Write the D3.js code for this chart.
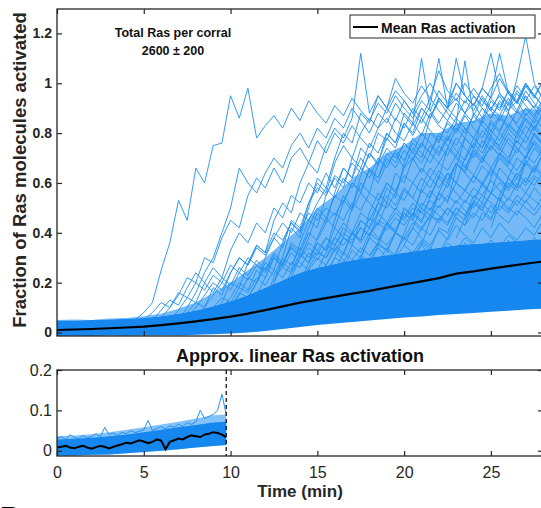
<!DOCTYPE html>
<html>
<head>
<meta charset="utf-8">
<script src="https://cdnjs.cloudflare.com/ajax/libs/d3/7.8.5/d3.min.js"></script>
<style>
  body { margin: 0; background: #fff; }
  svg { display: block; font-family: "Liberation Sans", Arial, sans-serif; }
  .tick text { fill: #262626; }
  .tick line { stroke: #262626; stroke-width: 1.2; }
</style>
</head>
<body>
<svg width="541" height="508"></svg>
<script>
// ---- data ----
var meanTimes = d3.range(0, 31, 1);
var meanTop = [0.01,0.012,0.014,0.017,0.02,0.024,0.03,0.037,0.045,0.054,0.064,0.076,0.09,0.105,0.12,0.132,0.144,0.156,0.167,0.18,0.193,0.205,0.218,0.236,0.245,0.256,0.266,0.276,0.285,0.29,0.3];

// envelopes of the dense part of the simulation cloud
var bandTimes = d3.range(0, 29, 1);
var coreLo = [-0.014,-0.013,-0.014,-0.012,-0.013,-0.012,-0.011,-0.012,-0.009,-0.007,-0.004,0.0,0.006,0.014,0.022,0.03,0.036,0.042,0.048,0.054,0.06,0.064,0.07,0.074,0.078,0.083,0.087,0.092,0.096];
var coreHi = [0.048,0.048,0.05,0.052,0.055,0.058,0.065,0.075,0.088,0.105,0.125,0.15,0.18,0.21,0.24,0.26,0.275,0.29,0.3,0.31,0.32,0.33,0.34,0.35,0.355,0.36,0.365,0.37,0.375];
var midHi = [0.05,0.052,0.05,0.056,0.058,0.065,0.075,0.095,0.12,0.16,0.2,0.25,0.3,0.36,0.42,0.5,0.55,0.62,0.66,0.72,0.75,0.8,0.8,0.84,0.85,0.88,0.87,0.9,0.89];

// single trajectories, sampled every 0.5 min from their start time
var trajStep = 0.5;
var trajStart = [4.5, 6, 6.5, 7, 8, 9, 10, 10.5, 11, 12, 13, 14, 15, 16, 17, 18, 19, 20, 5.5, 5, 20.5, 22, 8.5, 15.5, 24,
                 12.5, 13.5, 11.5, 17.5, 21, 15, 16.5, 19.5, 9.5, 7.5, 23, 18.5, 14.5, 10, 7, 25, 13];
var trajValues = [
  [0.05,0.08,0.12,0.25,0.36,0.53,0.45,0.66,0.6,0.75,0.76,0.95,0.86,0.98,0.78,0.83,0.87,0.82,0.9,0.85,0.93,0.88,0.84,0.91,0.87,0.94,0.89,0.85,0.92,0.88,0.95,0.9,0.86,0.93,0.89,0.84,0.9,0.94,0.88,0.92,0.86,0.9,0.95,0.89,0.93,0.87,0.91,0.88,0.92],
  [0.06,0.1,0.15,0.22,0.2,0.3,0.28,0.38,0.45,0.42,0.55,0.62,0.58,0.66,0.6,0.7,0.74,0.68,0.77,0.72,0.8,0.76,0.83,0.78,0.74,0.82,0.86,0.8,0.77,0.84,0.79,0.88,0.83,0.8,0.86,0.82,0.78,0.85,0.81,0.87,0.83,0.8,0.86,0.82,0.88],
  [0.05,0.09,0.14,0.12,0.2,0.26,0.22,0.33,0.4,0.36,0.44,0.4,0.5,0.46,0.55,0.52,0.6,0.56,0.64,0.58,0.66,0.62,0.7,0.65,0.6,0.68,0.72,0.66,0.7,0.64,0.72,0.68,0.74,0.7,0.66,0.73,0.69,0.75,0.71,0.67,0.74,0.7,0.76,0.72],
  [0.05,0.1,0.16,0.24,0.3,0.4,0.5,0.66,0.6,0.56,0.64,0.7,0.66,0.75,0.8,0.74,0.82,0.78,0.86,0.82,0.9,0.85,0.8,0.88,0.84,0.92,0.87,0.83,0.9,0.86,0.93,0.88,0.84,1.09,0.87,0.94,0.89,0.85,0.92,0.88,0.95,0.9,0.86],
  [0.06,0.1,0.18,0.15,0.24,0.3,0.27,0.35,0.32,0.4,0.37,0.44,0.41,0.48,0.45,0.5,0.47,0.53,0.49,0.56,0.52,0.48,0.55,0.51,0.58,0.54,0.5,0.57,0.53,0.6,0.56,0.52,0.58,0.55,0.61,0.57,0.53,0.6,0.56,0.62,0.58],
  [0.08,0.12,0.2,0.18,0.28,0.35,0.32,0.45,0.52,0.48,0.6,0.68,0.64,0.75,0.82,0.78,0.86,1.12,0.88,0.95,0.9,0.97,0.93,0.88,0.95,1.0,0.94,0.9,0.96,0.92,0.98,0.93,0.89,0.96,0.91,0.97,0.93,0.99,0.94,0.9],
  [0.1,0.15,0.22,0.2,0.3,0.38,0.34,0.45,0.42,0.52,0.58,0.55,0.63,0.6,0.68,0.64,0.72,0.67,0.74,0.7,0.76,0.72,0.68,0.75,0.71,0.78,0.73,0.69,0.76,0.72,0.79,0.74,0.7,0.77,0.73,0.8,0.75],
  [0.1,0.14,0.2,0.28,0.25,0.36,0.44,0.4,0.52,0.6,0.56,0.68,0.75,0.7,0.8,0.86,0.82,0.9,0.85,0.93,0.88,0.84,0.91,1.1,0.9,0.86,0.93,0.89,0.95,0.9,0.87,0.94,0.89,0.97,0.92,0.88],
  [0.12,0.16,0.14,0.22,0.26,0.24,0.3,0.34,0.31,0.38,0.35,0.42,0.39,0.45,0.42,0.48,0.44,0.5,0.46,0.52,0.48,0.45,0.51,0.47,0.53,0.49,0.46,0.52,0.48,0.54,0.5,0.47,0.53,0.49,0.55],
  [0.14,0.2,0.28,0.25,0.36,0.45,0.42,0.55,0.62,0.58,0.7,0.66,0.76,0.72,0.8,0.76,0.84,0.79,0.86,0.81,0.77,0.84,0.8,0.87,0.82,0.78,0.85,0.81,0.88,0.83,0.79,0.86,0.82,0.89],
  [0.15,0.2,0.18,0.26,0.32,0.3,0.38,0.44,0.4,0.48,0.45,0.52,0.5,0.56,0.53,0.6,0.56,0.62,0.58,0.64,0.6,0.57,0.63,0.59,0.65,0.61,0.58,0.64,0.6,0.66,0.62,0.59],
  [0.2,0.28,0.36,0.33,0.45,0.55,0.5,0.63,0.72,0.68,0.8,0.76,0.88,0.84,1.1,0.89,0.97,0.92,1.0,0.95,0.91,0.98,1.12,0.96,0.92,0.99,0.94,0.9,0.97,0.93],
  [0.22,0.27,0.34,0.31,0.4,0.37,0.46,0.43,0.52,0.49,0.57,0.54,0.62,0.58,0.65,0.61,0.68,0.64,0.6,0.67,0.63,0.7,0.66,0.62,0.69,0.65,0.72,0.68],
  [0.25,0.32,0.4,0.37,0.48,0.56,0.52,0.64,0.6,0.7,0.76,0.72,0.8,0.77,0.84,0.8,0.87,0.83,0.79,0.86,0.82,0.89,0.85,0.81,0.88,0.84],
  [0.25,0.3,0.28,0.35,0.33,0.4,0.38,0.44,0.41,0.47,0.45,0.5,0.47,0.53,0.5,0.55,0.52,0.49,0.54,0.51,0.56,0.53,0.5,0.55],
  [0.3,0.36,0.44,0.4,0.5,0.47,0.57,0.54,0.63,0.6,0.68,0.64,0.72,0.68,0.75,0.71,0.78,0.74,0.7,0.77,0.73,0.8],
  [0.32,0.4,0.5,0.46,0.58,0.66,0.62,0.74,0.82,0.78,0.88,0.84,0.93,0.89,0.97,0.92,1.0,0.95,0.91,0.98],
  [0.35,0.42,0.5,0.47,0.56,0.64,0.6,0.7,0.78,0.74,0.84,0.8,0.88,1.02,1.19,1.0,0.94,0.98],
  [0.05,0.09,0.13,0.11,0.18,0.24,0.2,0.16,0.22,0.19,0.26,0.23,0.29,0.25,0.32,0.28,0.34,0.3,0.36,0.33,0.38,0.35,0.4,0.37,0.42,0.39,0.44,0.41,0.46,0.43,0.48,0.45,0.5,0.47,0.44,0.5,0.47,0.52,0.49,0.46,0.51,0.48,0.53,0.5,0.47,0.52,0.49,0.54],
  [0.05,0.08,0.12,0.1,0.16,0.14,0.2,0.17,0.23,0.2,0.27,0.24,0.3,0.27,0.25,0.31,0.28,0.34,0.31,0.28,0.33,0.3,0.35,0.32,0.29,0.34,0.31,0.36,0.33,0.3,0.35,0.32,0.37,0.34,0.31,0.36,0.33,0.38,0.35,0.32,0.37,0.34,0.39,0.36,0.33,0.38,0.35,0.4],
  [0.3,0.36,0.33,0.42,0.4,0.48,0.45,0.52,0.49,0.56,0.53,0.6,0.57,0.62,0.59,0.64,0.61],
  [0.32,0.38,0.46,0.43,0.52,0.6,0.56,0.66,0.62,0.7,0.67,0.74,0.7,0.76],
  [0.06,0.1,0.14,0.12,0.18,0.16,0.22,0.19,0.25,0.22,0.28,0.26,0.32,0.29,0.35,0.33,0.38,0.36,0.42,0.39,0.45,0.43,0.48,0.45,0.5,0.48,0.53,0.5,0.55,0.52,0.57,0.54,0.59,0.56,0.6,0.57,0.62,0.59,0.63,0.6,0.64],
  [0.24,0.3,0.38,0.35,0.45,0.42,0.52,0.6,0.56,0.66,0.74,0.7,0.8,0.76,0.85,0.81,0.88,0.84,0.9,0.86,0.92,0.88,0.84,0.9,0.86,0.93,0.89],
  [0.4,0.48,0.45,0.55,0.62,0.58,0.68,0.64,0.72,0.69],
  [0.2,0.3,0.42,0.38,0.5,0.62,0.58,0.7,0.8,0.76,0.88,0.84,0.95,0.9,1.02,0.96,0.92,0.99,0.94,1.05,0.97,0.93,1.0,0.95,0.91,0.98,1.04,0.96,0.92,1.0,0.95,0.91],
  [0.22,0.3,0.38,0.48,0.44,0.56,0.66,0.62,0.74,0.7,0.8,0.77,0.86,0.82,0.9,0.86,0.94,0.89,0.85,0.92,0.88,0.95,0.9,0.86,0.93,0.89,0.96,0.91,0.87,0.94],
  [0.15,0.22,0.3,0.27,0.36,0.33,0.42,0.5,0.46,0.55,0.52,0.6,0.57,0.65,0.62,0.7,0.66,0.73,0.69,0.76,0.72,0.79,0.75,0.71,0.78,0.74,0.81,0.77,0.73,0.8,0.76,0.83,0.79,0.75],
  [0.3,0.38,0.48,0.58,0.54,0.68,0.78,0.74,0.86,0.94,0.9,1.1,0.95,0.91,0.98,0.94,1.02,0.96,0.92,0.99,0.95,1.01,0.97],
  [0.35,0.45,0.56,0.52,0.66,0.78,0.74,0.86,0.95,1.12,0.96,0.92,0.99,0.94,1.01,0.96],
  [0.25,0.32,0.42,0.38,0.5,0.6,0.56,0.68,0.78,0.74,0.84,0.8,0.9,0.86,0.94,0.9,1.0,0.95,0.91,0.98,0.94,0.9,0.97,0.93,1.0,0.95,0.91],
  [0.26,0.33,0.3,0.38,0.35,0.43,0.4,0.48,0.45,0.52,0.49,0.56,0.53,0.6,0.57,0.63,0.6,0.66,0.62,0.58,0.64,0.6,0.67,0.63,0.59],
  [0.32,0.38,0.35,0.42,0.39,0.46,0.43,0.5,0.47,0.53,0.5,0.56,0.53,0.49,0.55,0.52,0.58,0.54],
  [0.1,0.14,0.2,0.17,0.25,0.22,0.3,0.27,0.35,0.32,0.4,0.37,0.44,0.48,0.45,0.52,0.49,0.56,0.53,0.6,0.57,0.63,0.6,0.66,0.62,0.68,0.65,0.71,0.67,0.63,0.7,0.66,0.72,0.69,0.65,0.71,0.68,0.74],
  [0.06,0.1,0.15,0.2,0.17,0.24,0.3,0.27,0.34,0.31,0.38,0.44,0.4,0.48,0.45,0.52,0.58,0.54,0.62,0.58,0.66,0.62,0.7,0.66,0.73,0.69,0.76,0.72,0.68,0.75,0.71,0.78,0.74,0.7,0.77,0.73,0.8,0.76,0.72,0.79,0.75,0.71],
  [0.38,0.46,0.55,0.52,0.62,0.72,0.68,0.8,0.88,0.84,0.92],
  [0.28,0.34,0.31,0.4,0.48,0.44,0.55,0.62,0.58,0.68,0.65,0.74,0.7,0.78,0.75,0.82,0.78,0.86,0.82,0.78,0.85],
  [0.2,0.25,0.23,0.3,0.28,0.35,0.32,0.4,0.37,0.44,0.41,0.48,0.45,0.42,0.47,0.44,0.5,0.46,0.43,0.48,0.45,0.51,0.47,0.44,0.49,0.46,0.42,0.48],
  [0.1,0.16,0.14,0.2,0.26,0.23,0.3,0.27,0.34,0.3,0.36,0.33,0.38,0.35,0.4,0.36,0.42,0.38,0.35,0.4,0.37,0.42,0.38,0.35,0.41,0.37,0.43,0.39,0.36,0.42,0.38,0.44,0.4,0.37,0.42,0.39,0.45],
  [0.05,0.08,0.12,0.1,0.15,0.2,0.17,0.24,0.21,0.27,0.24,0.3,0.26,0.32,0.28,0.25,0.3,0.27,0.33,0.29,0.26,0.31,0.28,0.34,0.3,0.27,0.32,0.29,0.35,0.31,0.28,0.33,0.3,0.36,0.32,0.29,0.34,0.31,0.37,0.33,0.3,0.35,0.32],
  [0.42,0.52,0.62,0.58,0.7,0.8,0.76,0.85],
  [0.18,0.24,0.32,0.28,0.38,0.46,0.42,0.52,0.6,0.56,0.66,0.62,0.72,0.68,0.76,0.72,0.8,0.76,0.72,0.79,0.75,0.82,0.78,0.74,0.81,0.77,0.84,0.8,0.76,0.83,0.79,0.75,0.82]
];

// bottom panel: approx. linear phase
var linEnd = 9.75;
var botTimes = d3.range(0, 10, 0.25);
var botMean = [0.008,0.01,0.012,0.008,0.006,0.01,0.012,0.008,0.005,0.009,0.012,0.01,0.006,0.01,0.013,0.016,0.02,0.018,0.022,0.026,0.023,0.019,0.022,0.028,0.025,0.004,0.022,0.026,0.03,0.028,0.034,0.038,0.036,0.034,0.04,0.042,0.046,0.044,0.04,0.034];
var botLines = [
  [0.03,0.035,0.028,0.04,0.033,0.03,0.038,0.032,0.036,0.042,0.035,0.058,0.04,0.044,0.038,0.046,0.042,0.05,0.045,0.048,0.052,0.075,0.05,0.055,0.06,0.054,0.062,0.058,0.066,0.06,0.07,0.065,0.072,0.1,0.08,0.085,0.09,0.1,0.14,0.09],
  [-0.01,-0.005,-0.012,-0.006,-0.01,-0.004,-0.008,-0.002,-0.006,0.0,-0.004,0.002,-0.003,0.004,0.0,0.006,0.002,0.008,0.004,0.01,0.006,0.012,0.008,0.014,0.01,0.016,0.012,0.018,0.014,0.02,0.016,0.022,0.018,0.024,0.02,0.026,0.022,0.028,0.024,0.03]
];
var botBandTimes = [0,1,2,3,4,5,6,7,8,9,9.75];
var botLo = [-0.012,-0.012,-0.01,-0.009,-0.006,-0.003,0.0,0.004,0.008,0.012,0.014];
var botHi = [0.028,0.03,0.032,0.036,0.04,0.046,0.052,0.058,0.064,0.07,0.072];
var botMidHi = [0.036,0.038,0.041,0.046,0.052,0.058,0.065,0.072,0.08,0.088,0.09];

var xTicks = [0,5,10,15,20,25];
var yTicksTop = [0,0.2,0.4,0.6,0.8,1,1.2];
var yTicksBot = [0,0.1,0.2];

// ---- drawing ----
var svg = d3.select("svg"),
    blue = "#2090f2",
    core = "#1687ee",
    ink = "#262626";

var x = d3.scaleLinear().domain([0, 28]).range([57, 543]);
var yT = d3.scaleLinear().domain([-0.014, 1.298]).range([336, 9]);
var yB = d3.scaleLinear().domain([-0.013, 0.2]).range([456, 370]);

var defs = svg.append("defs");
defs.append("clipPath").attr("id", "clipT").append("rect")
    .attr("x", x(0)).attr("y", yT(1.298)).attr("width", x(28) - x(0)).attr("height", yT(-0.014) - yT(1.298));
defs.append("clipPath").attr("id", "clipB").append("rect")
    .attr("x", x(0)).attr("y", yB(0.2)).attr("width", x(28) - x(0)).attr("height", yB(-0.013) - yB(0.2));

function band(xs, lo, hi, y) {
  return d3.area()
    .x(function(d, i) { return x(xs[i]); })
    .y0(function(d, i) { return y(lo[i]); })
    .y1(function(d, i) { return y(hi[i]); })(xs);
}

// top panel
var gT = svg.append("g").attr("clip-path", "url(#clipT)");
gT.append("path").attr("d", band(bandTimes, coreHi, midHi, yT)).attr("fill", blue).attr("opacity", 0.62);

var trajLine = d3.line()
    .x(function(d) { return x(d[0]); })
    .y(function(d) { return yT(d[1]); });

gT.selectAll(".traj")
  .data(trajValues)
  .enter().append("path")
    .attr("class", "traj")
    .attr("d", function(vals, k) {
      return trajLine(vals.map(function(v, i) { return [trajStart[k] + i * trajStep, v]; }));
    })
    .attr("fill", "none")
    .attr("stroke", blue)
    .attr("stroke-width", 1)
    .attr("opacity", 0.9);

gT.append("path").attr("d", band(bandTimes, coreLo, coreHi, yT)).attr("fill", core);

gT.append("path")
  .datum(meanTop)
  .attr("d", d3.line().x(function(d, i) { return x(meanTimes[i]); }).y(function(d) { return yT(d); }))
  .attr("fill", "none").attr("stroke", "#000").attr("stroke-width", 2.2);

// bottom panel
var gB = svg.append("g").attr("clip-path", "url(#clipB)");
gB.append("path").attr("d", band(botBandTimes, botLo, botMidHi, yB)).attr("fill", blue).attr("opacity", 0.55);
gB.selectAll(".bl")
  .data(botLines)
  .enter().append("path")
    .attr("d", d3.line().x(function(d, i) { return x(botTimes[i]); }).y(function(d) { return yB(d); }))
    .attr("fill", "none").attr("stroke", blue).attr("stroke-width", 1);
gB.append("path").attr("d", band(botBandTimes, botLo, botHi, yB)).attr("fill", core);
gB.append("path")
  .datum(botMean)
  .attr("d", d3.line().x(function(d, i) { return x(botTimes[i]); }).y(function(d) { return yB(d); }))
  .attr("fill", "none").attr("stroke", "#000").attr("stroke-width", 2);

svg.append("line")
  .attr("x1", x(linEnd)).attr("x2", x(linEnd))
  .attr("y1", yB(0.2)).attr("y2", yB(-0.013))
  .attr("stroke", "#111").attr("stroke-width", 1.3).attr("stroke-dasharray", "4,3");

// axes & frames
function frame(y, top, bottom) {
  svg.append("rect")
    .attr("x", x(0)).attr("y", y(top))
    .attr("width", x(28) - x(0)).attr("height", y(bottom) - y(top))
    .attr("fill", "none").attr("stroke", ink).attr("stroke-width", 1.3);
}
function axes(y, top, bottom, yTicks, bold, fs, showX) {
  var fmt = d3.format("~g");
  svg.append("g").attr("transform", "translate(" + x(0) + ",0)")
    .call(d3.axisLeft(y).tickValues(yTicks).tickSizeInner(-5).tickSizeOuter(0).tickPadding(5).tickFormat(fmt))
    .call(function(g) { g.select(".domain").remove(); })
    .selectAll("text").attr("font-size", fs).attr("font-weight", bold ? "bold" : "normal")
    .attr("font-family", "Liberation Sans, Arial, sans-serif");
  svg.append("g").attr("transform", "translate(" + x(28) + ",0)")
    .call(d3.axisRight(y).tickValues(yTicks).tickSizeInner(-5).tickSizeOuter(0).tickFormat(""))
    .call(function(g) { g.select(".domain").remove(); });
  svg.append("g").attr("transform", "translate(0," + y(top) + ")")
    .call(d3.axisTop(x).tickValues(xTicks).tickSizeInner(-5).tickSizeOuter(0).tickFormat(""))
    .call(function(g) { g.select(".domain").remove(); });
  var xb = svg.append("g").attr("transform", "translate(0," + y(bottom) + ")")
    .call(d3.axisBottom(x).tickValues(xTicks).tickSizeInner(-5).tickSizeOuter(0).tickPadding(11)
      .tickFormat(showX ? fmt : ""))
    .call(function(g) { g.select(".domain").remove(); });
  xb.selectAll("text").attr("font-size", 16).attr("font-family", "Liberation Sans, Arial, sans-serif");
  frame(y, top, bottom);
}
axes(yT, 1.298, -0.014, yTicksTop, true, 14, false);
axes(yB, 0.2, -0.013, yTicksBot, false, 16, true);

// texts
svg.append("text")
  .attr("transform", "translate(26,170) rotate(-90)")
  .attr("text-anchor", "middle").attr("font-weight", "bold").attr("font-size", 18.5).attr("fill", ink)
  .text("Fraction of Ras molecules activated");

svg.append("text")
  .attr("x", 300).attr("y", 362)
  .attr("text-anchor", "middle").attr("font-weight", "bold").attr("font-size", 18).attr("fill", "#111")
  .text("Approx. linear Ras activation");

svg.append("text")
  .attr("x", 300).attr("y", 497)
  .attr("text-anchor", "middle").attr("font-weight", "bold").attr("font-size", 17).attr("fill", ink)
  .text("Time (min)");

var note = svg.append("text")
  .attr("text-anchor", "middle").attr("font-weight", "bold").attr("font-size", 12.5).attr("fill", "#111");
note.append("tspan").attr("x", 173).attr("y", 37).text("Total Ras per corral");
note.append("tspan").attr("x", 173).attr("y", 55).text("2600 \u00b1 200");

// legend
var lg = svg.append("g");
lg.append("rect").attr("x", 350).attr("y", 15).attr("width", 185).attr("height", 23)
  .attr("fill", "#fff").attr("stroke", ink).attr("stroke-width", 1);
lg.append("line").attr("x1", 353).attr("x2", 378).attr("y1", 27).attr("y2", 27)
  .attr("stroke", "#000").attr("stroke-width", 2);
lg.append("text").attr("x", 381).attr("y", 32.5)
  .attr("font-weight", "bold").attr("font-size", 14).attr("fill", "#111")
  .text("Mean Ras activation");

// next panel letter peeking at the bottom
svg.append("text").attr("x", 0).attr("y", 526)
  .attr("font-weight", "bold").attr("font-size", 28).attr("fill", "#000").text("B");
</script>
</body>
</html>
